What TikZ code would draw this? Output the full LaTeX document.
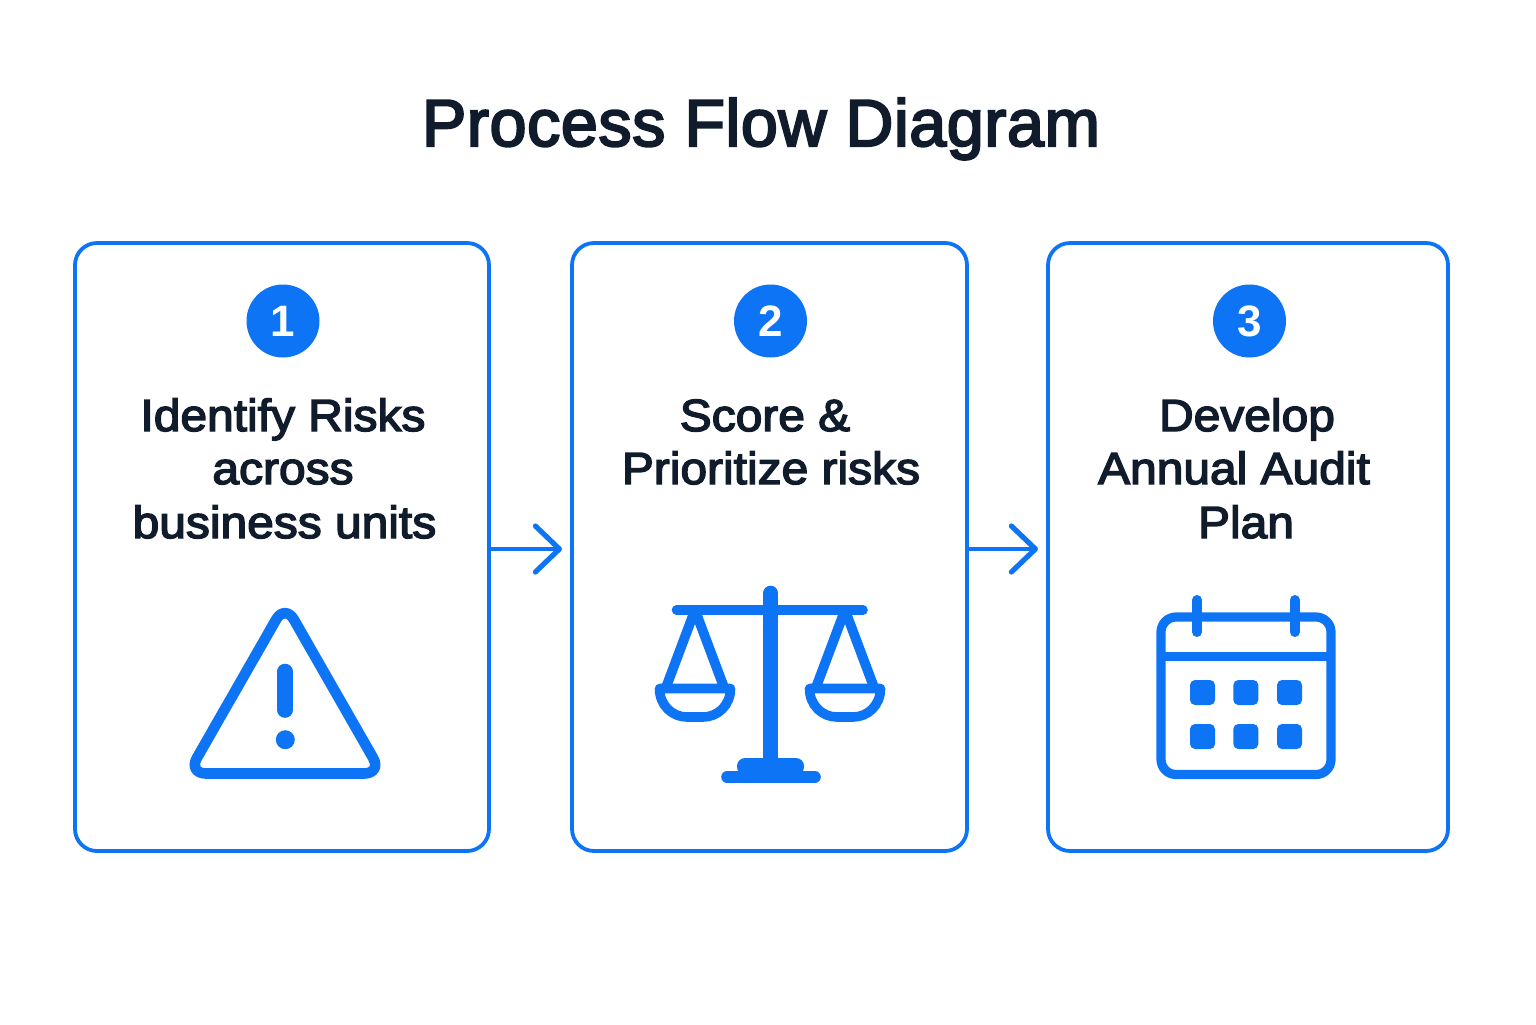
\documentclass[tikz,border=0pt]{standalone}
\usepackage{fontspec}
\setmainfont{Liberation Sans}
\newfontfamily\titlefont[FakeBold=3.2,LetterSpace=0.9]{Liberation Sans}
\newfontfamily\stepfont[FakeBold=3.2,FakeStretch=1.065]{Liberation Sans}
\usetikzlibrary{arrows.meta}
\definecolor{flowblue}{HTML}{0D74F5}
\definecolor{inkdark}{HTML}{101B2B}
\tikzset{
	box/.style={draw=flowblue,line width=1.9pt,rounded corners=11pt,minimum height=304pt,inner sep=0pt},
	badge/.style={circle,fill=flowblue,text=white,minimum size=36.5pt,inner sep=0pt,font=\fontsize{22}{22}\selectfont\bfseries},
	steptext/.style={anchor=base,text=inkdark,inner sep=0pt,font=\fontsize{22.5}{22.5}\stepfont},
	link/.style={draw=flowblue,line width=1.9pt,line cap=round,-{Straight Barb[length=12pt,width=23pt,line width=2.6pt,round]}},
	icon/.style={draw=flowblue,line cap=round,line join=round},
	solid icon/.style={fill=flowblue,draw=none}
}
\begin{document}
\begin{tikzpicture}[x=0.5pt,y=-0.5pt]
	\useasboundingbox (0,0) rectangle (1536,1024);
	\node[anchor=base,text=inkdark,inner sep=0pt,font=\fontsize{33.2}{33.2}\titlefont] (title) at (761,146) {Process Flow Diagram};

	\node[box,minimum width=207pt] (box1) at (282,547) {};
	\node[box,minimum width=197.5pt] (box2) at (769.5,547) {};
	\node[box,minimum width=200pt] (box3) at (1248,547) {};

	\node[badge] (n1) at (283,321) {1};
	\node[badge] (n2) at (770.5,321) {2};
	\node[badge] (n3) at (1249.5,321) {3};

	\node[steptext] (t11) at (283,431) {Identify Risks};
	\node[steptext] (t12) at (283,484) {across};
	\node[steptext] (t13) at (284.5,538) {business units};
	\node[steptext] (t21) at (765,431) {Score \&};
	\node[steptext] (t22) at (771,484) {Prioritize risks};
	\node[steptext] (t31) at (1247,431) {Develop};
	\node[steptext] (t32) at (1234,484) {Annual Audit};
	\node[steptext] (t33) at (1246,538) {Plan};

	\coordinate (tip1) at (562,549);
	\coordinate (tip2) at (1038,549);
	\draw[link] (box1.east |- tip1) -- (tip1);
	\draw[link] (box2.east |- tip2) -- (tip2);

	% warning sign
	\draw[icon,line width=5.3pt,rounded corners=9pt] (285,604) -- (188,773.5) -- (382,773.5) -- cycle;
	\draw[icon,line width=7.8pt] (285,671.5) -- (285,710);
	\fill[flowblue] (285.3,739.7) circle (9.5);

	% scales
	\draw[icon,line width=7.3pt] (770.7,593) -- (770.7,760);
	\draw[icon,line width=4.8pt] (676.5,610) -- (863,610);
	\foreach \px in {695,845} {
		\draw[icon,line width=4.9pt,line cap=butt] (\px-30,690) -- (\px,610) -- (\px+30,690);
		\draw[icon,line width=4.8pt] (\px-35.5,688.5) -- (\px+35.5,688.5) .. controls (\px+35.5,705) and (\px+23,717) .. (\px+8,717) -- (\px-8,717) .. controls (\px-23,717) and (\px-35.5,705) .. (\px-35.5,688.5) -- cycle;
	}
	\fill[solid icon,rounded corners=4pt] (737,775) -- (737,758) -- (804,758) -- (804,775) -- cycle;
	\draw[icon,line width=5.8pt] (727,777) -- (815,777);

	% calendar
	\draw[icon,line width=4.6pt,rounded corners=7.5pt] (1161,617) rectangle (1331,774.5);
	\draw[icon,line width=4.6pt,line cap=butt] (1161,656.3) -- (1331,656.3);
	\foreach \cx in {1197,1294.7}
		\draw[icon,line width=5pt] (\cx,600) -- (\cx,632);
	\foreach \cx in {1190,1233.3,1277}
		\foreach \cy in {680,724}
			\fill[solid icon,rounded corners=2.5pt] (\cx,\cy) rectangle (\cx+25,\cy+25);
\end{tikzpicture}
\end{document}
